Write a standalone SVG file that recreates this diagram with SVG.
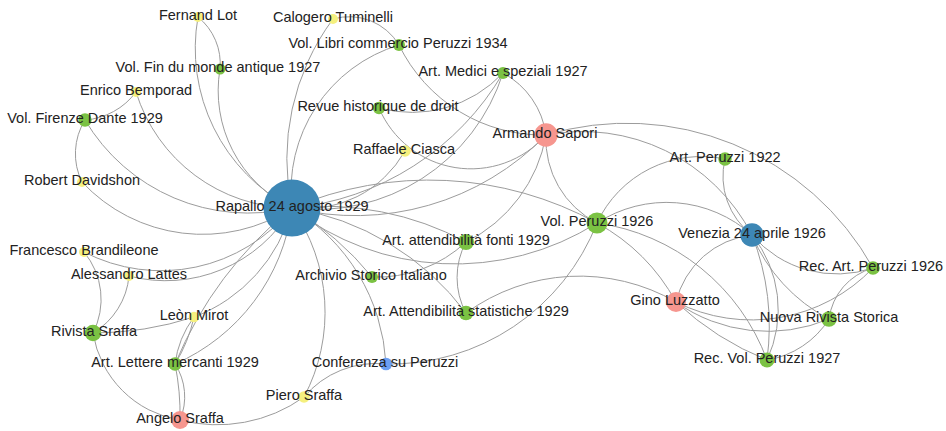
<svg xmlns="http://www.w3.org/2000/svg" width="946" height="431" viewBox="0 0 946 431">
<style>
.e{fill:none;stroke:#9c9c9c;stroke-width:1}
.y{fill:#f5f07e}
.g{fill:#7bc243}
.p{fill:#f6968f}
.b{fill:#3d87b5}
.c{fill:#6c9ff2}
text{font-family:"Liberation Sans",Arial,sans-serif;font-size:14.5px;fill:#222;text-anchor:middle}
</style>
<rect width="946" height="431" fill="#fff"/>
<g id="edges">
<path class="e" d="M198 17 A180 180 0 0 0 292 208"/>
<path class="e" d="M220 69 A130 130 0 0 0 292 208"/>
<path class="e" d="M136 92 A165 165 0 0 0 292 208"/>
<path class="e" d="M85 120 A190 190 0 0 0 292 208"/>
<path class="e" d="M82 182 A165 165 0 0 0 292 208"/>
<path class="e" d="M85 120 A64 64 0 0 0 82 182"/>
<path class="e" d="M136 92 A70 70 0 0 1 85 120"/>
<path class="e" d="M198 17 A60 60 0 0 1 220 69"/>
<path class="e" d="M333 19 A235 235 0 0 0 292 208"/>
<path class="e" d="M333 19 A58 58 0 0 1 399 45"/>
<path class="e" d="M399 45 A152 152 0 0 0 292 208"/>
<path class="e" d="M399 45 A160 160 0 0 0 546 135"/>
<path class="e" d="M503 73 A125 125 0 0 1 379 108"/>
<path class="e" d="M503 73 A196 196 0 0 1 292 208"/>
<path class="e" d="M503 73 A275 275 0 0 1 292 208"/>
<path class="e" d="M503 73 A83 83 0 0 1 546 135"/>
<path class="e" d="M379 108 A100 100 0 0 0 546 135"/>
<path class="e" d="M405 151 A114 114 0 0 1 292 208"/>
<path class="e" d="M546 135 A266 266 0 0 1 292 208"/>
<path class="e" d="M546 135 A148 148 0 0 1 466 242"/>
<path class="e" d="M546 135 A94 94 0 0 0 597 223"/>
<path class="e" d="M546 135 A282 282 0 0 1 873 268"/>
<path class="e" d="M546 135 A191 191 0 0 1 752 235"/>
<path class="e" d="M725 159 A115 115 0 0 0 597 223"/>
<path class="e" d="M725 159 A74 74 0 0 0 752 235"/>
<path class="e" d="M597 223 A128 128 0 0 1 752 235"/>
<path class="e" d="M597 223 A200 200 0 0 1 676 302"/>
<path class="e" d="M597 223 A213 213 0 0 1 767 360"/>
<path class="e" d="M292 208 A350 350 0 0 1 597 223"/>
<path class="e" d="M292 208 A266 266 0 0 0 597 223"/>
<path class="e" d="M292 208 A300 300 0 0 1 466 242"/>
<path class="e" d="M466 242 A130 130 0 0 1 372 277"/>
<path class="e" d="M466 242 A75 75 0 0 0 466 313"/>
<path class="e" d="M292 208 A300 300 0 0 1 372 277"/>
<path class="e" d="M292 208 A270 270 0 0 1 466 313"/>
<path class="e" d="M292 208 A194 194 0 0 1 386 364"/>
<path class="e" d="M292 208 A181 181 0 0 1 304 397"/>
<path class="e" d="M386 364 A94 94 0 0 0 304 397"/>
<path class="e" d="M597 223 A222 222 0 0 1 386 364"/>
<path class="e" d="M466 313 A193 193 0 0 1 676 302"/>
<path class="e" d="M304 397 A149 149 0 0 1 180 420"/>
<path class="e" d="M175 364 A60 60 0 0 1 180 420"/>
<path class="e" d="M175 364 A250 250 0 0 1 180 420"/>
<path class="e" d="M194 317 A100 100 0 0 0 175 364"/>
<path class="e" d="M194 317 A150 150 0 0 1 175 364"/>
<path class="e" d="M292 208 A198 198 0 0 1 175 364"/>
<path class="e" d="M292 208 A400 400 0 0 0 175 364"/>
<path class="e" d="M292 208 A159 159 0 0 1 194 317"/>
<path class="e" d="M292 208 A168 168 0 0 1 84 252"/>
<path class="e" d="M292 208 A146 146 0 0 1 129 276"/>
<path class="e" d="M93 333 A74 74 0 0 0 84 252"/>
<path class="e" d="M93 333 A74 74 0 0 0 129 276"/>
<path class="e" d="M93 333 A327 327 0 0 0 194 317"/>
<path class="e" d="M93 333 A105 105 0 0 0 180 420"/>
<path class="e" d="M676 302 A88 88 0 0 1 752 235"/>
<path class="e" d="M676 302 A158 158 0 0 0 829 319"/>
<path class="e" d="M676 302 A294 294 0 0 0 767 360"/>
<path class="e" d="M676 302 A168 168 0 0 0 873 268"/>
<path class="e" d="M752 235 A112 112 0 0 0 873 268"/>
<path class="e" d="M752 235 A167 167 0 0 0 829 319"/>
<path class="e" d="M752 235 A252 252 0 0 1 767 360"/>
<path class="e" d="M752 235 A119 119 0 0 1 767 360"/>
<path class="e" d="M873 268 A61 61 0 0 0 829 319"/>
<path class="e" d="M829 319 A90 90 0 0 1 767 360"/>
</g>
<g id="n-rapallo"><circle class="b" cx="292" cy="208" r="28.5"/><text x="292" y="211">Rapallo 24 agosto 1929</text></g>
<g id="n-fernand"><circle class="y" cx="198" cy="17" r="5"/><text x="198" y="20">Fernand Lot</text></g>
<g id="n-calogero"><circle class="y" cx="333" cy="19" r="5"/><text x="333" y="22">Calogero Tuminelli</text></g>
<g id="n-vollibri"><circle class="g" cx="399" cy="45" r="6"/><text x="398" y="48">Vol. Libri commercio Peruzzi 1934</text></g>
<g id="n-volfin"><circle class="g" cx="220" cy="69" r="5.5"/><text x="218" y="72">Vol. Fin du monde antique 1927</text></g>
<g id="n-medici"><circle class="g" cx="503" cy="73" r="6"/><text x="503" y="76">Art. Medici e speziali 1927</text></g>
<g id="n-bemporad"><circle class="y" cx="136" cy="92" r="5"/><text x="136" y="95">Enrico Bemporad</text></g>
<g id="n-firenze"><circle class="g" cx="85" cy="120" r="6.7"/><text x="85" y="123">Vol. Firenze Dante 1929</text></g>
<g id="n-revue"><circle class="g" cx="379" cy="108" r="6.2"/><text x="378" y="111">Revue historique de droit</text></g>
<g id="n-sapori"><circle class="p" cx="546" cy="135" r="11.7"/><text x="545" y="138">Armando Sapori</text></g>
<g id="n-ciasca"><circle class="y" cx="405" cy="151" r="5.8"/><text x="404" y="154">Raffaele Ciasca</text></g>
<g id="n-davidshon"><circle class="y" cx="82" cy="182" r="5"/><text x="82" y="185">Robert Davidshon</text></g>
<g id="n-artperuzzi22"><circle class="g" cx="725" cy="159" r="6.7"/><text x="725" y="162">Art. Peruzzi 1922</text></g>
<g id="n-volperuzzi26"><circle class="g" cx="597" cy="223" r="10.5"/><text x="597" y="226">Vol. Peruzzi 1926</text></g>
<g id="n-venezia"><circle class="b" cx="752" cy="235" r="11.7"/><text x="752" y="238">Venezia 24 aprile 1926</text></g>
<g id="n-fonti"><circle class="g" cx="466" cy="242" r="8"/><text x="466" y="245">Art. attendibilità fonti 1929</text></g>
<g id="n-brandileone"><circle class="y" cx="84" cy="252" r="5"/><text x="84" y="255">Francesco Brandileone</text></g>
<g id="n-lattes"><circle class="y" cx="129" cy="276" r="5"/><text x="129" y="279">Alessandro Lattes</text></g>
<g id="n-archivio"><circle class="g" cx="372" cy="277" r="6"/><text x="371" y="280">Archivio Storico Italiano</text></g>
<g id="n-recart"><circle class="g" cx="873" cy="268" r="6.8"/><text x="871" y="271">Rec. Art. Peruzzi 1926</text></g>
<g id="n-luzzatto"><circle class="p" cx="676" cy="302" r="10"/><text x="675" y="305">Gino Luzzatto</text></g>
<g id="n-statistiche"><circle class="g" cx="466" cy="313" r="7.3"/><text x="466" y="316">Art. Attendibilità statistiche 1929</text></g>
<g id="n-mirot"><circle class="y" cx="194" cy="317" r="5.3"/><text x="194" y="320">Leòn Mirot</text></g>
<g id="n-rivista"><circle class="g" cx="93" cy="333" r="8.3"/><text x="94" y="336">Rivista Sraffa</text></g>
<g id="n-nuova"><circle class="g" cx="829" cy="319" r="7.8"/><text x="829" y="322">Nuova Rivista Storica</text></g>
<g id="n-lettere"><circle class="g" cx="175" cy="364" r="6.7"/><text x="175" y="367">Art. Lettere mercanti 1929</text></g>
<g id="n-conferenza"><circle class="c" cx="386" cy="364" r="6.3"/><text x="385" y="367">Conferenza su Peruzzi</text></g>
<g id="n-recvol"><circle class="g" cx="767" cy="360" r="7.5"/><text x="767" y="363">Rec. Vol. Peruzzi 1927</text></g>
<g id="n-piero"><circle class="y" cx="304" cy="397" r="5.8"/><text x="304" y="400">Piero Sraffa</text></g>
<g id="n-angelo"><circle class="p" cx="180" cy="420" r="9"/><text x="180" y="423">Angelo Sraffa</text></g>
</svg>
